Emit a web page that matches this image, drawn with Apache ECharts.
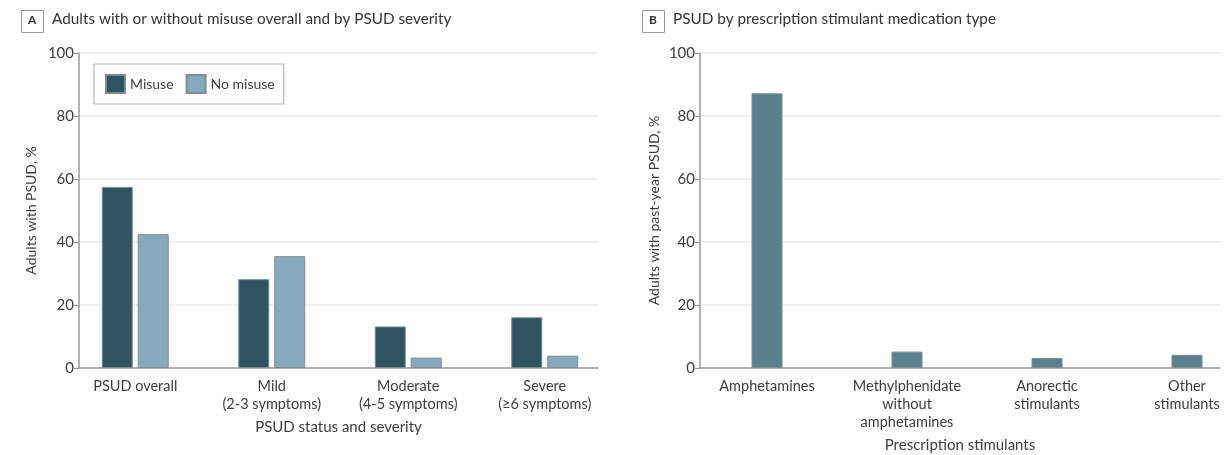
<!DOCTYPE html>
<html>
<head>
<meta charset="utf-8">
<script src="https://cdn.jsdelivr.net/npm/echarts@6/dist/echarts.min.js"></script>
<style>
  html, body { margin: 0; padding: 0; background: #fff; }
  #chart { width: 1224px; height: 455px; }
</style>
</head>
<body>
<div id="chart"></div>
<script>
// Panel A: PSUD status and severity, adults with and without misuse
const severityCategories = ['PSUD overall', 'Mild\n(2-3 symptoms)', 'Moderate\n(4-5 symptoms)', 'Severe\n(≥6 symptoms)'];
const misuseValues = [57.5, 28.2, 13.2, 16.1];
const noMisuseValues = [42.5, 35.5, 3.3, 3.9];

// Panel B: PSUD by prescription stimulant type
const stimulantCategories = ['Amphetamines', 'Methylphenidate\nwithout\namphetamines', 'Anorectic\nstimulants', 'Other\nstimulants'];
const stimulantValues = [87.2, 5.2, 3.2, 4.2];

const yTicks = [0, 20, 40, 60, 80, 100];

const FONT = 'Lato, "Liberation Sans", sans-serif';
const TEXT = '#3d3d3d';
const AXIS = '#9a9a9a';
const GRID = '#e9e9e9';
const C_MISUSE = '#2e5361';
const C_NOMISUSE = '#86aabb';
const C_STIM = '#5b808d';
const BORDER = '#7d8d93';

const chart = echarts.init(document.getElementById('chart'), null, { renderer: 'canvas' });

// Visible frame of a panel: value axis with gridlines plus the baseline and axis titles
function frameAxes(gridIndex, name, nameGap, yName, yNameGap) {
  return {
    x: {
      type: 'value', gridIndex, min: 0, max: 1,
      axisLine: { show: true, lineStyle: { color: AXIS, width: 1.5 } },
      axisTick: { show: false }, axisLabel: { show: false }, splitLine: { show: false },
      name, nameLocation: 'middle', nameGap,
      nameTextStyle: { fontFamily: FONT, fontSize: 15, color: TEXT }
    },
    y: {
      type: 'value', gridIndex, min: 0, max: 100, interval: 20,
      axisLine: { show: true, lineStyle: { color: AXIS, width: 1.5 } },
      axisTick: { show: true, length: 5, lineStyle: { color: AXIS, width: 1.2 } },
      axisLabel: { fontFamily: FONT, fontSize: 15, color: TEXT, margin: 5,
                   formatter: v => yTicks.includes(v) ? String(v) : '' },
      splitLine: { show: true, lineStyle: { color: GRID, width: 1.5 } },
      name: yName, nameLocation: 'middle', nameGap: yNameGap, nameRotate: 90,
      nameTextStyle: { fontFamily: FONT, fontSize: 14, color: TEXT }
    }
  };
}

// Category band that places the bars and their labels
function barAxes(gridIndex, categories) {
  return {
    x: {
      type: 'category', gridIndex, data: categories,
      axisLine: { show: false }, axisTick: { show: false },
      axisLabel: { fontFamily: FONT, fontSize: 14.5, color: TEXT, margin: 9, lineHeight: 18, interval: 0 }
    },
    y: {
      type: 'value', gridIndex, min: 0, max: 100, interval: 20, show: false,
      splitLine: { show: false }
    }
  };
}

const fA = frameAxes(0, 'PSUD status and severity', 52, 'Adults with PSUD, %', 41);
const bA = barAxes(1, severityCategories);
const fB = frameAxes(2, 'Prescription stimulants', 70, 'Adults with past-year PSUD, %', 39);
const bB = barAxes(3, stimulantCategories);

function panelLabel(x, y, letter, title) {
  return [
    { type: 'rect', left: x, top: y, shape: { width: 22, height: 22 },
      style: { fill: '#fff', stroke: '#9a9a9a', lineWidth: 1 } },
    { type: 'text', left: x + 7, top: y + 4,
      style: { text: letter, font: 'bold 12px ' + FONT, fill: '#333' } },
    { type: 'text', left: x + 31, top: y + 2,
      style: { text: title, font: '15.3px ' + FONT, fill: '#333' } }
  ];
}

const gridBase = { outerBoundsMode: 'none', containLabel: false };

const option = {
  backgroundColor: '#ffffff',
  animation: false,
  textStyle: { fontFamily: FONT },
  grid: [
    Object.assign({ left: 79, top: 53, width: 519, height: 315 }, gridBase),
    Object.assign({ left: 67, top: 53, width: 546, height: 315 }, gridBase),
    Object.assign({ left: 700, top: 53, width: 520, height: 315 }, gridBase),
    Object.assign({ left: 697, top: 53, width: 560, height: 315 }, gridBase)
  ],
  xAxis: [fA.x, bA.x, fB.x, bB.x],
  yAxis: [fA.y, bA.y, fB.y, bB.y],
  legend: {
    left: 94, top: 64,
    padding: [10, 9, 10, 11],
    icon: 'rect',
    itemWidth: 19, itemHeight: 18, itemGap: 12,
    borderColor: '#b5b5b5', borderWidth: 1.2,
    textStyle: { fontFamily: FONT, fontSize: 14, color: TEXT },
    data: ['Misuse', 'No misuse']
  },
  graphic: [
    ...panelLabel(21, 10, 'A', 'Adults with or without misuse overall and by PSUD severity'),
    ...panelLabel(642, 10, 'B', 'PSUD by prescription stimulant medication type')
  ],
  series: [
    {
      name: 'Misuse', type: 'bar', xAxisIndex: 1, yAxisIndex: 1,
      data: misuseValues, barWidth: 31, barGap: '16%',
      itemStyle: { color: C_MISUSE, borderColor: BORDER, borderWidth: 1 }
    },
    {
      name: 'No misuse', type: 'bar', xAxisIndex: 1, yAxisIndex: 1,
      data: noMisuseValues, barWidth: 31, barGap: '16%',
      itemStyle: { color: C_NOMISUSE, borderColor: BORDER, borderWidth: 1 }
    },
    {
      name: 'Prescription stimulants', type: 'bar', xAxisIndex: 3, yAxisIndex: 3,
      data: stimulantValues, barWidth: 31,
      itemStyle: { color: C_STIM, borderColor: BORDER, borderWidth: 1 }
    }
  ]
};

chart.setOption(option);
</script>
</body>
</html>
